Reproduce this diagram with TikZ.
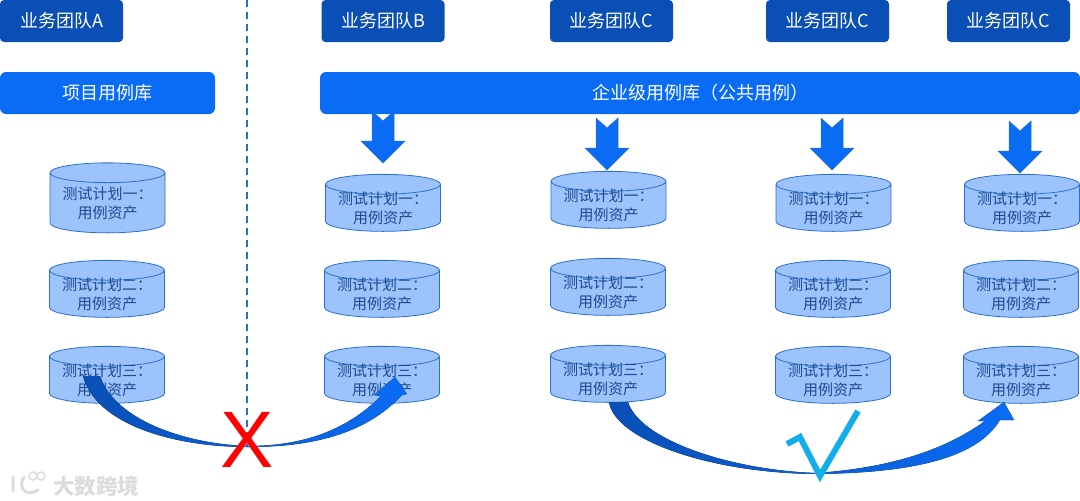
\documentclass[tikz,border=0pt]{standalone}
\usepackage{xcolor}
\usepackage{fontspec}
\setmainfont{Noto Sans CJK SC}
\newfontfamily\latinfont{Liberation Sans}
\usetikzlibrary{shapes.geometric}
\definecolor{teamblue}{HTML}{0A4FB5}
\definecolor{repoblue}{HTML}{0A6CF5}
\definecolor{planblue}{HTML}{9CC3FC}
\definecolor{planline}{HTML}{2A70D2}
\definecolor{plantext}{HTML}{1B4C8F}
\definecolor{tickblue}{HTML}{12AEEB}
\definecolor{markgrey}{HTML}{DCDCDC}

\begin{document}
\begin{tikzpicture}[
  x=1pt, y=-1pt,
  team/.style = {rounded corners=4pt, fill=teamblue, text=white, minimum width=123pt,
                 minimum height=42pt, inner sep=0pt, font=\fontsize{18}{20}\selectfont},
  repo/.style = {rounded corners=6pt, fill=repoblue, text=white, minimum height=42pt,
                 inner sep=0pt, font=\fontsize{18}{20}\selectfont},
  plan/.style = {cylinder, shape border rotate=90, aspect=0.22, draw=planline, line width=0.8pt,
                 cylinder uses custom fill, cylinder end fill=planblue, cylinder body fill=planblue,
                 minimum width=115pt, minimum height=57pt, inner xsep=0pt, inner ysep=-4pt,
                 align=center, text=plantext, font=\fontsize{15}{19}\selectfont},
  pics/pusharrow/.style = {code={
    \filldraw[fill=repoblue, draw=planline, line width=0.5pt]
      (0,-42) -- (-11,-52) -- (-11,-22) -- (-22,-22) -- (0,0)
      -- (22,-22) -- (11,-22) -- (11,-52) -- cycle;}}
]
  \useasboundingbox (0,0) rectangle (1080,501);

  \node[team] (TeamA)  at (61.5,21)  {业务团队A};
  \node[team] (TeamB)  at (383,21)   {业务团队B};
  \node[team] (TeamC1) at (611.5,21) {业务团队C};
  \node[team] (TeamC2) at (827.5,21) {业务团队C};
  \node[team] (TeamC3) at (1008.5,21) {业务团队C};

  \node[repo, minimum width=215pt] (RepoA)  at (107.5,93) {项目用例库};
  \node[repo, minimum width=760pt] (RepoAll) at (700,93)  {企业级用例库（公共用例）};

  \node[plan, minimum height=70pt] (PlanA1) at (107.5,203) {测试计划一：\\用例资产};
  \node[plan] (PlanA2) at (107,294)  {测试计划二：\\用例资产};
  \node[plan] (PlanA3) at (107,380)  {测试计划三：\\用例资产};
  \node[plan] (PlanB1) at (383,208)  {测试计划一：\\用例资产};
  \node[plan] (PlanB2) at (382,294)  {测试计划二：\\用例资产};
  \node[plan] (PlanB3) at (382,380)  {测试计划三：\\用例资产};
  \node[plan] (PlanC1) at (608.5,205) {测试计划一：\\用例资产};
  \node[plan] (PlanC2) at (608,292)  {测试计划二：\\用例资产};
  \node[plan] (PlanC3) at (608,379)  {测试计划三：\\用例资产};
  \node[plan] (PlanD1) at (833.5,208) {测试计划一：\\用例资产};
  \node[plan] (PlanD2) at (833,294)  {测试计划二：\\用例资产};
  \node[plan] (PlanD3) at (833,380)  {测试计划三：\\用例资产};
  \node[plan] (PlanE1) at (1022,208) {测试计划一：\\用例资产};
  \node[plan] (PlanE2) at (1021,294) {测试计划二：\\用例资产};
  \node[plan] (PlanE3) at (1021,380) {测试计划三：\\用例资产};

  \pic at (383,163)  {pusharrow};
  \pic at (607,170)  {pusharrow};
  \pic at (832,170)  {pusharrow};
  \pic at (1020,173) {pusharrow};

  \draw[planline, dash pattern=on 7pt off 5pt, line width=1.5pt] (247,0) -- (247,447);

  % curved arrows
  \fill[left color=teamblue, right color=repoblue]
    (83,376) .. controls (96,425) and (175,447) .. (248,447)
    .. controls (310,447) and (365,435) .. (402,395)
    -- (407,394) -- (395,377) -- (374,395) -- (381,396)
    .. controls (345,432) and (300,446) .. (248,446)
    .. controls (185,444) and (115,420) .. (100,376) -- cycle;
  \fill[left color=teamblue, right color=repoblue]
    (609,402) .. controls (615,440) and (710,473) .. (816,474)
    .. controls (900,473) and (975,462) .. (1000,420)
    -- (1014,420) -- (1004,402) -- (978,421) -- (985,421)
    .. controls (945,450) and (890,468) .. (816,473)
    .. controls (730,470) and (640,440) .. (628,402) -- cycle;

  \node[text=red, inner sep=0pt, font=\latinfont\fontsize{80}{80}\selectfont] (Cross) at (247.5,440) {X};
  \draw[tickblue, line width=6pt, miter limit=10] (787,444) -- (800,437) -- (820,476) -- (858,411);

  % watermark
  \draw[markgrey, line width=3pt, line cap=round] (13,477) -- (13,491) (24,477) .. controls (18,486) and (24,498) .. (38,490);
  \draw[markgrey, line width=1.5pt] (33,476) circle (4) (41,476) circle (4);
  \node[text=markgrey, inner sep=0pt, font=\bfseries\fontsize{21.5}{22}\selectfont] (Mark) at (96,486) {大数跨境};
\end{tikzpicture}
\end{document}
